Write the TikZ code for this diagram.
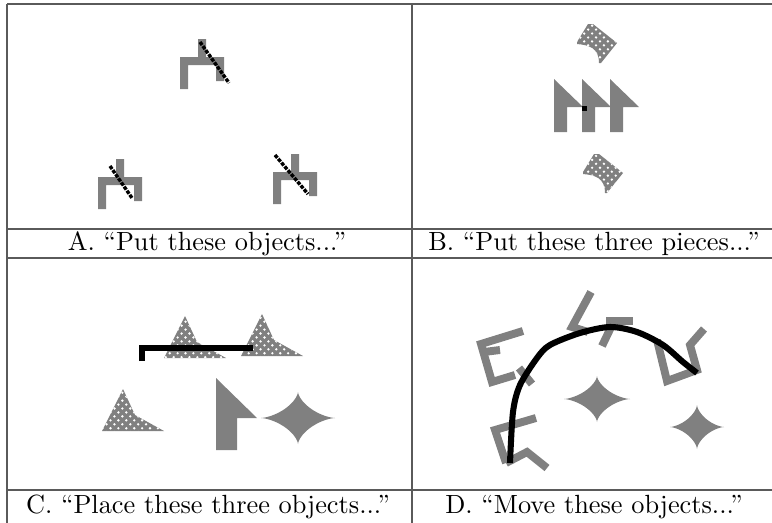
\documentclass[tikz,border=0pt]{standalone}
\usepackage{tikz}
\usetikzlibrary{patterns}
\definecolor{piecegray}{HTML}{808080}
\definecolor{rulegray}{HTML}{5A5A5A}

\begin{document}
\begin{tikzpicture}[x=0.38pt,y=-0.38pt,
  rule/.style={draw=rulegray,line width=0.45pt},
  piece/.style={fill=piecegray},
  dotpiece/.style={fill=piecegray,postaction={pattern=crosshatch dots,pattern color=white}},
  stroke/.style={draw=black,line width=2.3pt},
  trail/.style={draw=black,line width=1.3pt,dash pattern=on 1.4pt off 0.5pt},
  arm/.style={draw=piecegray,line width=3pt},
  caption/.style={anchor=center,inner sep=0pt},
  pics/crank/.style={code={\fill[piece] (0,0) rectangle (8,32) (0,0) rectangle (44,8)
      (18,-18) rectangle (26,0) (36,0) rectangle (44,24);}},
  pics/hook/.style={code={\fill[dotpiece] (0,0) -- (11,-18) -- (16,-18) -- (40,1) -- (24,21) -- (22,21)
      .. controls (22,6) and (12,3) .. (0,2) -- cycle;}},
  pics/flag/.style={code={\fill[piece] (0,0) -- (29,28) -- (13,28) -- (13,53) -- (0,53) -- cycle;}},
  pics/wedge/.style={code={\fill[dotpiece] (0,0) -- (12,26) -- (41,42) -- (-21,42) -- cycle;}},
  pics/star/.style 2 args={code={\fill[piece] plot[domain=0:360,samples=121]
      ({#1*cos(\x)*cos(\x)*cos(\x)},{#2*sin(\x)*sin(\x)*sin(\x)}) -- cycle;}}]
\useasboundingbox (0,0) rectangle (772,523);

% table rules
\draw[rule] (7,4) -- (776,4);
\draw[rule] (7,229) -- (776,229);
\draw[rule] (7,258) -- (776,258);
\draw[rule] (7,490) -- (776,490);
\draw[rule] (7,4) -- (7,530);
\draw[rule] (412,4) -- (412,530);

% captions
\node[caption] (capA) at (207,244) {A. ``Put these objects...''};
\node[caption] (capB) at (594,244) {B. ``Put these three pieces...''};
\node[caption] (capC) at (208,507) {C. ``Place these three objects...''};
\node[caption] (capD) at (594,507) {D. ``Move these objects...''};

% A
\pic at (180,57) {crank};
\pic at (98,177) {crank};
\pic at (273,172) {crank};
\draw[trail] (200,42) -- (229,83);
\draw[trail] (110,166) -- (132,198);
\draw[trail] (275,155) -- (308,194);

% B
\pic at (577,42) {hook};
\pic at (583,172) {hook};
\foreach \fx in {554,582,610}
  \pic at (\fx,79) {flag};
\fill (581.5,105.5) rectangle (586.5,110.5);

% C
\pic at (185,316) {wedge};
\pic at (262,314) {wedge};
\pic at (123,389) {wedge};
\fill[piece] (216,378) -- (257,418) -- (237,418) -- (237,450) -- (216,450) -- cycle;
\pic at (298,418) {star={37}{26}};
\draw[stroke] (142,361) -- (142,348) -- (253,348);

% D
\pic at (597,399) {star={33}{23}};
\pic at (697,427) {star={27}{22}};
\draw[arm] (523,331) -- (481,344) -- (492,382) -- (515,375);
\draw[arm] (519,368) -- (532,384);
\draw[arm] (484,352) -- (500,350);
\draw[arm] (591,292) -- (572,327) -- (588,332);
\draw[arm] (606,321) -- (633,321);
\draw[arm] (614,321) -- (602,346);
\draw[arm] (704,329) -- (690,345) -- (697,370) -- (667,381) -- (657,340);
\draw[arm] (536,418) -- (495,430) -- (506,463);
\draw[arm] (506,463) -- (527,452) -- (547,468);
\draw[stroke] plot[smooth] coordinates {(510,463) (513,412) (520,385) (537,358)
  (550,345) (580,333) (610,327) (637,332) (663,345) (683,362) (697,373)};
\end{tikzpicture}
\end{document}
